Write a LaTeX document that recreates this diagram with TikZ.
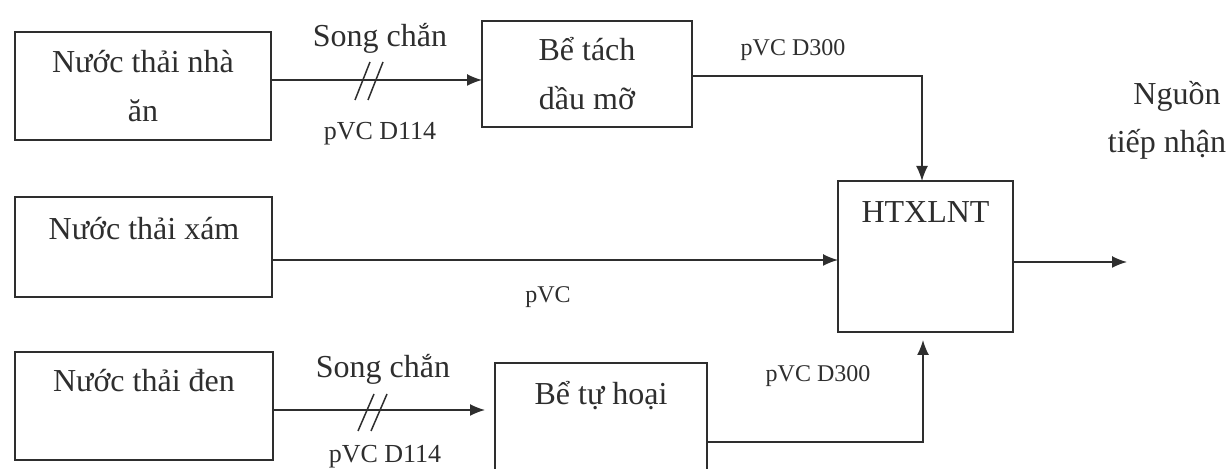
\documentclass[tikz,border=0pt]{standalone}
\usepackage{fontspec}
\setmainfont{Liberation Serif}
\usetikzlibrary{arrows.meta}
\definecolor{ink}{HTML}{2E2E2E}
\begin{document}
\begin{tikzpicture}[x=0.5pt,y=-0.5pt,
  box/.style={draw=ink, line width=0.9pt, inner sep=0pt, outer sep=0pt},
  txt/.style={text=ink, font=\fontsize{16}{24.5}\selectfont, inner sep=0pt, align=center},
  lbl/.style={text=ink, font=\fontsize{13}{15}\selectfont, inner sep=0pt},
  smlbl/.style={text=ink, font=\fontsize{12}{14}\selectfont, inner sep=0pt},
  pipe/.style={draw=ink, line width=0.75pt},
  arr/.style={pipe, -{Latex[length=7.5pt,width=6pt]}}]
\useasboundingbox (0,0) rectangle (1226,469);
\clip (0,0) rectangle (1226,469);
% boxes
\node[box, txt, minimum width=128pt, minimum height=54pt] (nha) at (143,86) {Nước thải nhà\\ăn};
\node[box, txt, minimum width=105pt, minimum height=53pt] (tach) at (587,74) {Bể tách\\dầu mỡ};
\node[box, minimum width=128.5pt, minimum height=50pt] (xam) at (143.5,247) {};
\node[txt] (xamT) at (144,229) {Nước thải xám};
\node[box, minimum width=129pt, minimum height=54pt] (den) at (144,406) {};
\node[txt] (denT) at (144,381) {Nước thải đen};
\node[box, minimum width=106pt, minimum height=70pt] (hoai) at (601,433) {};
\node[txt] (hoaiT) at (601,396) {Bể tự hoại};
\node[box, minimum width=87.5pt, minimum height=75.5pt] (ht) at (925.5,256.5) {};
\node[txt] (htT) at (925.5,212) {HTXLNT};
\node[txt] (nguon) at (1177,96) {Nguồn};
\node[txt] (tiep) at (1167,144) {tiếp nhận};
% connectors
\coordinate (c1) at (0,80);
\draw[arr] (nha.east |- c1) -- (tach.west |- c1);
\coordinate (c2) at (922,76);
\draw[arr] (tach.east |- c2) -- (c2) -- (c2 |- ht.north);
\coordinate (c3) at (0,260);
\draw[arr] (xam.east |- c3) -- (ht.west |- c3);
\coordinate (c4) at (0,410);
\draw[arr, shorten >=5pt] (den.east |- c4) -- (hoai.west |- c4);
\coordinate (c5) at (923,442);
\draw[arr, shorten >=4pt] (hoai.east |- c5) -- (c5) -- (c5 |- ht.south);
\coordinate (out) at (1127,262);
\draw[arr] (ht.east |- out) -- (out);
% hash marks
\draw[pipe] (355,100) -- (370,62);
\draw[pipe] (368,100) -- (383,62);
\draw[pipe] (358,431) -- (374,394);
\draw[pipe] (371,431) -- (387,394);
% labels
\node[txt] (sc1) at (380,38) {Song chắn};
\node[lbl] (d1) at (380,134) {pVC D114};
\node[txt] (sc2) at (383,369) {Song chắn};
\node[lbl] (d2) at (385,457) {pVC D114};
\node[smlbl] (d3) at (793,50) {pVC D300};
\node[smlbl] (d4) at (818,376) {pVC D300};
\node[smlbl] (d5) at (548,297) {pVC};
\end{tikzpicture}
\end{document}
